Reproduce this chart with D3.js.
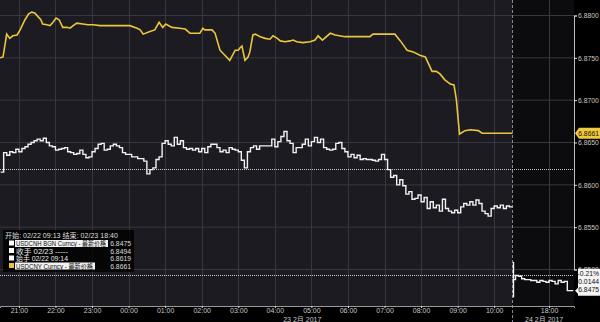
<!DOCTYPE html>
<html>
<head>
<meta charset="utf-8">
<script src="https://cdn.jsdelivr.net/npm/d3@7"></script>
<style>
  body { margin: 0; background: #000; }
  svg { display: block; font-family: "Liberation Sans", "Noto Sans CJK SC", sans-serif; }
</style>
</head>
<body>
<div id="chart"></div>
<script>
// USDCNH, 5 minute steps from 02/22 20:30 to 02/23 10:30
var cnhStart = "2017-02-22T20:30";
var cnhValues = [
  6.8615, 6.8638, 6.8635, 6.8639, 6.8638, 6.8642, 6.8639, 6.8643, 6.8645, 6.8648,
  6.8650, 6.8652, 6.8654, 6.8652, 6.8655, 6.8650, 6.8646, 6.8645, 6.8641, 6.8642,
  6.8643, 6.8644, 6.8639, 6.8638, 6.8636, 6.8637, 6.8641, 6.8636, 6.8632, 6.8633,
  6.8639, 6.8643, 6.8648, 6.8649, 6.8641, 6.8642, 6.8646, 6.8648, 6.8646, 6.8644,
  6.8638, 6.8636, 6.8636, 6.8633, 6.8633, 6.8631, 6.8631, 6.8628, 6.8613, 6.8618,
  6.8620, 6.8630, 6.8633, 6.8649, 6.8652, 6.8648, 6.8646, 6.8656, 6.8648, 6.8652,
  6.8644, 6.8642, 6.8643, 6.8641, 6.8643, 6.8639, 6.8643, 6.8638, 6.8645, 6.8648,
  6.8648, 6.8644, 6.8639, 6.8641, 6.8638, 6.8644, 6.8642, 6.8641, 6.8639, 6.8629,
  6.8620, 6.8639, 6.8644, 6.8646, 6.8642, 6.8646, 6.8646, 6.8646, 6.8646, 6.8654,
  6.8645, 6.8651, 6.8657, 6.8663, 6.8652, 6.8649, 6.8638, 6.8644, 6.8644, 6.8648,
  6.8654, 6.8646, 6.8651, 6.8656, 6.8650, 6.8654, 6.8644, 6.8642, 6.8641, 6.8642,
  6.8649, 6.8650, 6.8643, 6.8639, 6.8633, 6.8636, 6.8632, 6.8635, 6.8630, 6.8631,
  6.8630, 6.8630, 6.8629, 6.8628, 6.8630, 6.8636, 6.8630, 6.8618, 6.8609, 6.8611,
  6.8600, 6.8606, 6.8599, 6.8589, 6.8592, 6.8583, 6.8584, 6.8588, 6.8580, 6.8585,
  6.8572, 6.8580, 6.8573, 6.8576, 6.8569, 6.8583, 6.8572, 6.8569, 6.8567, 6.8570,
  6.8567, 6.8574, 6.8578, 6.8576, 6.8580, 6.8576, 6.8582, 6.8578, 6.8569, 6.8566,
  6.8563, 6.8572, 6.8575, 6.8573, 6.8576, 6.8572, 6.8575, 6.8574
];
// USDCNH, 5 minute steps from 02/24 17:00 to 18:40
var cnhLateStart = "2017-02-24T17:00";
var cnhLateValues = [
  6.8488, 6.8493, 6.8492, 6.8489, 6.8488, 6.8488, 6.8487, 6.8487, 6.8485, 6.8487,
  6.8486, 6.8485, 6.8487, 6.8486, 6.8483, 6.8487, 6.8485, 6.8486, 6.8475, 6.8475
];
var cnhOpenRange = [6.8467, 6.8509];

// USDCNY
var cnyTimes = [
  "20:29","20:34","20:40","20:45","20:50","20:57","21:02","21:10","21:16","21:21",
  "21:26","21:31","21:36","21:39","21:46","21:51","21:56","22:01","22:06","22:12",
  "22:19","22:24","22:29","22:35","22:45","22:53","23:02","23:13","23:29","00:02",
  "00:14","00:19","00:24","00:35","00:43","00:50","00:56","01:01","01:11","01:24",
  "01:33","01:41","01:57","02:02","02:05","02:17","02:22","02:30","02:38","02:46",
  "02:55","03:00","03:03","03:06","03:11","03:16","03:19","03:24","03:28","03:36",
  "03:44","03:52","03:57","04:04","04:09","04:17","04:25","04:30","04:36","04:46",
  "04:58","05:06","05:11","05:18","05:31","05:39","05:55","06:36","06:41","07:17",
  "07:26","07:31","07:37","07:47","07:58","08:07","08:18","08:25","08:31","08:39",
  "08:48","08:54","08:58","09:03","09:12","09:21","09:34","09:40","10:30"
];
var cnyValues = [
  6.8750, 6.8751, 6.8778, 6.8773, 6.8776, 6.8777, 6.8783, 6.8795, 6.8802, 6.8804,
  6.8803, 6.8799, 6.8795, 6.8790, 6.8789, 6.8788, 6.8792, 6.8797, 6.8795, 6.8786,
  6.8786, 6.8785, 6.8788, 6.8791, 6.8790, 6.8789, 6.8789, 6.8788, 6.8788, 6.8788,
  6.8785, 6.8783, 6.8778, 6.8781, 6.8783, 6.8792, 6.8786, 6.8790, 6.8786, 6.8785,
  6.8784, 6.8779, 6.8779, 6.8785, 6.8783, 6.8783, 6.8779, 6.8759, 6.8753, 6.8747,
  6.8759, 6.8759, 6.8762, 6.8764, 6.8747, 6.8751, 6.8757, 6.8777, 6.8778, 6.8775,
  6.8773, 6.8772, 6.8776, 6.8773, 6.8770, 6.8769, 6.8770, 6.8771, 6.8769, 6.8768,
  6.8769, 6.8771, 6.8776, 6.8771, 6.8779, 6.8777, 6.8775, 6.8775, 6.8778, 6.8778,
  6.8770, 6.8765, 6.8759, 6.8757, 6.8753, 6.8751, 6.8734, 6.8734, 6.8731, 6.8724,
  6.8719, 6.8718, 6.8700, 6.8660, 6.8664, 6.8665, 6.8664, 6.8661, 6.8661
];

var yTicks = [6.8500, 6.8550, 6.8600, 6.8650, 6.8700, 6.8750, 6.8800];
var refLines = [6.8619, 6.8494];
var hourTicks = ["2017-02-22T21:00","2017-02-22T22:00","2017-02-22T23:00","2017-02-23T00:00",
  "2017-02-23T01:00","2017-02-23T02:00","2017-02-23T03:00","2017-02-23T04:00","2017-02-23T05:00",
  "2017-02-23T06:00","2017-02-23T07:00","2017-02-23T08:00","2017-02-23T09:00","2017-02-23T10:00",
  "2017-02-24T18:00"];
var dayLabels = [["23 2月 2017", "2017-02-23T04:45"], ["24 2月 2017", "2017-02-24T17:52"]];
var legendHeader = "开始: 02/22 09:13 结束: 02/23 18:40";
var legendRows = ["USDCNH BGN Curncy - 最新价格", "收手 02/23 -----", "始手 02/22 09:14", "USDCNY Curncy - 最新价格"];
var legendValues = ["6.8475", "6.8494", "6.8619", "6.8661"];
var lastTag = ["-0.21%", "-0.0144", "6.8475"];

var svgWidth = 600, svgHeight = 322;
var plotRight = 574, plotBottom = 306;
var parse = d3.timeParse("%Y-%m-%dT%H:%M");

// x axis has a gap between 10:30 on the 23rd and 17:00 on the 24th
var xScale = d3.scaleTime()
  .domain([parse("2017-02-22T20:29"), parse("2017-02-23T10:30"), parse("2017-02-24T17:00"), parse("2017-02-24T18:41")])
  .range([0, 512.5, 512.5, plotRight]);
var yScale = d3.scaleLinear().domain([6.8500, 6.8800]).range([269.5, 15.5]);
var xBreak = xScale(parse("2017-02-23T10:30"));

var cnh = cnhValues.map(function(v, i) { return { t: d3.timeMinute.offset(parse(cnhStart), 5 * i), v: v }; });
cnh.push({ t: parse("2017-02-23T10:30"), v: cnhValues[cnhValues.length - 1] });
var cnhLate = cnhLateValues.map(function(v, i) { return { t: d3.timeMinute.offset(parse(cnhLateStart), 5 * i), v: v }; });
cnhLate.push({ t: parse("2017-02-24T18:40"), v: cnhLateValues[cnhLateValues.length - 1] });
var cny = cnyTimes.map(function(s, i) {
  var day = +s.slice(0, 2) >= 20 ? "22" : "23";
  return { t: parse("2017-02-" + day + "T" + s), v: cnyValues[i] };
});

var svg = d3.select("#chart").append("svg")
  .attr("width", svgWidth)
  .attr("height", svgHeight);

// backgrounds
svg.append("rect").attr("width", svgWidth).attr("height", svgHeight).attr("fill", "#000");
svg.append("rect").attr("x", 0).attr("y", 0).attr("width", xBreak).attr("height", plotBottom).attr("fill", "#1c1b21");
svg.append("rect").attr("x", xBreak).attr("y", 0).attr("width", plotRight - xBreak).attr("height", plotBottom).attr("fill", "#0c0c0e");

// grid
var grid = svg.append("g");
grid.selectAll(".hg").data(yTicks).enter().append("line")
  .attr("x1", 0).attr("x2", plotRight)
  .attr("y1", d => yScale(d)).attr("y2", d => yScale(d))
  .attr("stroke", "#38373f").attr("stroke-width", 1);
grid.selectAll(".vg").data(hourTicks).enter().append("line")
  .attr("x1", d => Math.round(xScale(parse(d))) + 0.5).attr("x2", d => Math.round(xScale(parse(d))) + 0.5)
  .attr("y1", 0).attr("y2", plotBottom)
  .attr("stroke", "#38373f").attr("stroke-width", 1);

// reference dotted lines
svg.selectAll(".ref").data(refLines).enter().append("line")
  .attr("x1", 0).attr("x2", plotRight)
  .attr("y1", d => Math.round(yScale(d)) + 0.5).attr("y2", d => Math.round(yScale(d)) + 0.5)
  .attr("stroke", "#c8c8c8").attr("stroke-width", 1).attr("stroke-dasharray", "1,1");

// break line
svg.append("line")
  .attr("x1", xBreak).attr("x2", xBreak).attr("y1", 0).attr("y2", svgHeight)
  .attr("stroke", "#888").attr("stroke-dasharray", "3,2");

// series
var stepLine = d3.line().x(d => xScale(d.t)).y(d => yScale(d.v)).curve(d3.curveStepAfter);
var smoothLine = d3.line().x(d => xScale(d.t)).y(d => yScale(d.v));

svg.append("path").datum(cny)
  .attr("d", smoothLine).attr("fill", "none")
  .attr("stroke", "#ebc63c").attr("stroke-width", 1.6);
svg.append("path").datum(cnh)
  .attr("d", stepLine).attr("fill", "none")
  .attr("stroke", "#f2f2f2").attr("stroke-width", 1.4);
svg.append("path").datum(cnhLate)
  .attr("d", stepLine).attr("fill", "none")
  .attr("stroke", "#f2f2f2").attr("stroke-width", 1.4);
svg.append("line")
  .attr("x1", xScale(parse(cnhLateStart)) + 1).attr("x2", xScale(parse(cnhLateStart)) + 1)
  .attr("y1", yScale(cnhOpenRange[0])).attr("y2", yScale(cnhOpenRange[1]))
  .attr("stroke", "#f2f2f2").attr("stroke-width", 1.4);

// right axis
var rightAxis = d3.axisRight(yScale).tickValues(yTicks).tickSize(3).tickPadding(1).tickFormat(d3.format(".4f"));
var ra = svg.append("g").attr("transform", `translate(${plotRight},0)`).call(rightAxis);
ra.select(".domain").attr("stroke", "#bbb");
ra.selectAll(".tick line").attr("stroke", "#ddd");
ra.selectAll(".tick text").attr("fill", "#c8c8c8").attr("font-size", 6.8);

// bottom axis
var bottomAxis = d3.axisBottom(xScale).tickValues(hourTicks.map(parse)).tickSize(2).tickPadding(0).tickFormat(d3.timeFormat("%H:%M"));
var ba = svg.append("g").attr("transform", `translate(0,${plotBottom})`).call(bottomAxis);
ba.select(".domain").attr("stroke", "#999");
ba.selectAll(".tick line").attr("stroke", "#ddd");
ba.selectAll(".tick text").attr("fill", "#c8c8c8").attr("font-size", 7);

svg.selectAll(".day").data(dayLabels).enter().append("text")
  .attr("x", d => xScale(parse(d[1])))
  .attr("y", 321.5)
  .attr("text-anchor", "middle")
  .attr("fill", "#c8c8c8").attr("font-size", 7)
  .text(d => d[0]);

// last value tags
var cnyLast = cnyValues[cnyValues.length - 1];
var yc = yScale(cnyLast);
svg.append("path")
  .attr("d", `M${plotRight + 1},${yc} L${plotRight + 5},${yc - 5.5} L600,${yc - 5.5} L600,${yc + 5.5} L${plotRight + 5},${yc + 5.5} Z`)
  .attr("fill", "#f0c93c");
svg.append("text").attr("x", 599).attr("y", yc + 2.5).attr("text-anchor", "end")
  .attr("font-size", 6.8).attr("fill", "#111").text(d3.format(".4f")(cnyLast));

var cnhLast = cnhLateValues[cnhLateValues.length - 1];
var yw = yScale(cnhLast);
svg.append("path")
  .attr("d", `M${plotRight + 1},${yw} L${plotRight + 4},${yw - 3} L${plotRight + 4},${yw - 22} L600,${yw - 22} L600,${yw + 5} L${plotRight + 4},${yw + 5} L${plotRight + 4},${yw + 3} Z`)
  .attr("fill", "#f4f4f4");
svg.selectAll(".tag").data(lastTag).enter().append("text")
  .attr("x", 599).attr("y", (d, i) => yw - 15 + i * 8.3)
  .attr("text-anchor", "end").attr("font-size", 6.8).attr("fill", "#111")
  .text(d => d);

// legend
var lg = svg.append("g");
lg.append("rect").attr("x", 3).attr("y", 230).attr("width", 131).attr("height", 42).attr("fill", "rgba(0,0,0,0.8)");
lg.append("text").attr("x", 5).attr("y", 238).attr("font-size", 6.8).attr("fill", "#ddd")
  .attr("textLength", 113).attr("lengthAdjust", "spacingAndGlyphs").text(legendHeader);
var rowBoxW = [93, 55, 55, 80];
var rowColors = ["#ffffff", "#ffffff", "#ffffff", "#e9c43a"];
legendRows.forEach(function(label, i) {
  var ry = 240 + i * 7.5;
  var boxed = i === 0 || i === 3;
  lg.append("rect").attr("x", 9).attr("y", ry + 0.5).attr("width", 5).attr("height", 5).attr("fill", rowColors[i]);
  lg.append("rect").attr("x", 15).attr("y", ry).attr("width", rowBoxW[i]).attr("height", 7)
    .attr("fill", boxed ? "#f2f2f2" : "#000");
  lg.append("text").attr("x", 16).attr("y", ry + 6).attr("font-size", 6.8)
    .attr("textLength", rowBoxW[i] - 3).attr("lengthAdjust", "spacingAndGlyphs")
    .attr("fill", boxed ? "#111" : "#eee").text(label);
  lg.append("text").attr("x", 131).attr("y", ry + 6).attr("font-size", 6.8)
    .attr("text-anchor", "end").attr("fill", "#ddd").text(legendValues[i]);
});
</script>
</body>
</html>
